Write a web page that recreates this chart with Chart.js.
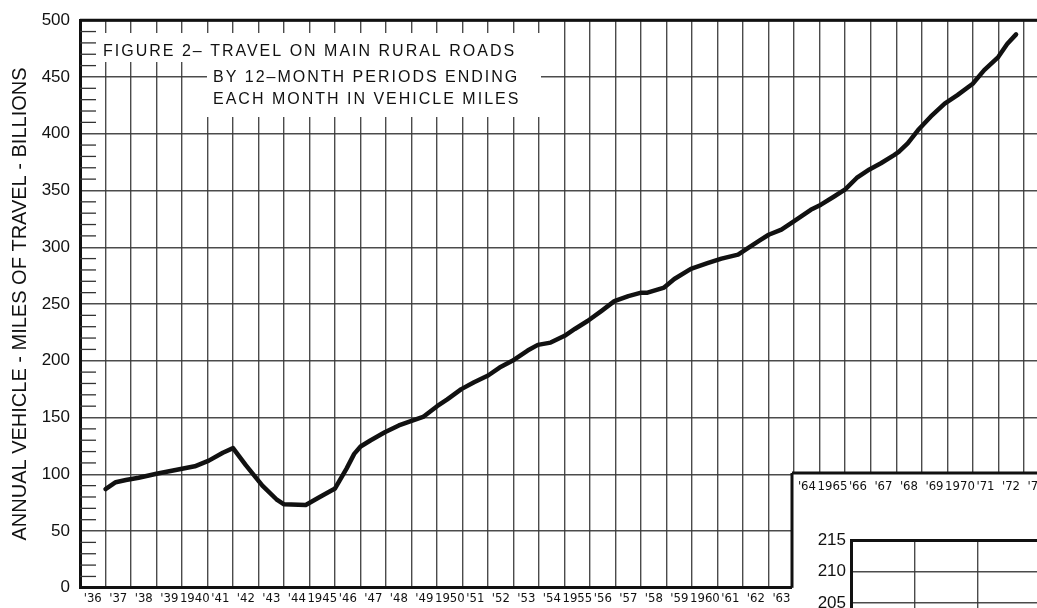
<!DOCTYPE html>
<html>
<head>
<meta charset="utf-8">
<script src="https://cdn.jsdelivr.net/npm/chart.js@4.4.1/dist/chart.umd.min.js"></script>
<style>
  html, body { margin: 0; padding: 0; background: #fff; overflow: hidden; }
  #wrap { position: relative; width: 1037px; height: 608px; overflow: hidden; }
  #mainChart { position: absolute; left: 0; top: 0; }
  #insetChart { position: absolute; left: 800px; top: 520px; }
</style>
</head>
<body>
<div id="wrap">
  <canvas id="mainChart" width="1037" height="608"></canvas>
  <canvas id="insetChart" width="305" height="200"></canvas>
</div>
<script>
// 12-month period ending (decimal year) and travel in billions of vehicle-miles
const periodEnd = [
  1937.00, 1937.40, 1937.80, 1938.30, 1939.00, 1939.90, 1940.50, 1941.05, 1941.60, 1942.00,
  1942.50, 1943.15, 1943.70, 1944.00, 1944.85, 1945.40, 1946.00, 1946.45, 1946.75, 1947.00,
  1947.40, 1947.95, 1948.50, 1949.00, 1949.45, 1950.00, 1950.40, 1950.95, 1951.45, 1952.00,
  1952.45, 1952.95, 1953.55, 1953.95, 1954.45, 1955.00, 1955.40, 1955.90, 1956.45, 1956.95,
  1957.50, 1958.00, 1958.25, 1958.90, 1959.30, 1959.95, 1960.60, 1961.15, 1961.80, 1962.20,
  1962.65, 1963.00, 1963.50, 1964.00, 1964.65, 1965.05, 1965.55, 1966.00, 1966.45, 1966.95,
  1967.40, 1967.90, 1968.10, 1968.45, 1968.85, 1969.35, 1969.90, 1970.40, 1971.00, 1971.45,
  1972.00, 1972.35, 1972.70
];
const travel = [
  87, 93, 95, 97, 100.5, 104.5, 107, 112, 119, 123,
  108, 90, 78, 73.5, 73, 80, 87.5, 105, 118, 124.5,
  130, 137, 143, 147, 150.5, 160, 166, 175, 181, 187,
  194, 200, 209, 214, 216, 222, 228, 235, 244, 252.5,
  257, 260, 260, 264.5, 272, 281, 286, 290, 293.5, 299.5,
  306, 311, 315.5, 323, 333, 337.5, 344.5, 351, 361, 368.5,
  374, 381, 384, 391.5, 403, 415, 426.5, 434, 444, 456,
  467.5, 479, 487.5
];
const years = [];
for (let yr = 1936; yr <= 1973; yr++) years.push(yr);
const yearLabels = [
  "'36", "'37", "'38", "'39", "1940", "'41", "'42", "'43", "'44", "1945",
  "'46", "'47", "'48", "'49", "1950", "'51", "'52", "'53", "'54", "1955",
  "'56", "'57", "'58", "'59", "1960", "'61", "'62", "'63", "'64", "1965",
  "'66", "'67", "'68", "'69", "1970", "'71", "'72", "'73"
];
const yTicks = [0, 50, 100, 150, 200, 250, 300, 350, 400, 450, 500];
const insetTicks = [215, 210, 205, 200, 195, 190];
const titleLines = [
  "FIGURE 2– TRAVEL ON MAIN RURAL ROADS",
  "BY 12–MONTH PERIODS ENDING",
  "EACH MONTH IN VEHICLE MILES"
];

const narrowFont = "'Liberation Sans Narrow', 'DejaVu Sans Condensed', sans-serif";
const plainFont = "'Liberation Sans', Arial, sans-serif";
const gridColor = "rgba(55,55,55,0.9)";
const lastMainYear = 1963;

function line(ctx, x1, y1, x2, y2) {
  ctx.beginPath();
  ctx.moveTo(x1, y1);
  ctx.lineTo(x2, y2);
  ctx.stroke();
}

const paperDetails = {
  id: "paperDetails",
  afterDraw(chart) {
    const { ctx, chartArea, scales } = chart;
    const x = scales.x, y = scales.y;
    ctx.save();

    // minor ticks every 10 along the left axis
    ctx.strokeStyle = "#333";
    ctx.lineWidth = 1.3;
    for (let v = 10; v < 500; v += 10) {
      if (v % 50 === 0) continue;
      const py = y.getPixelForValue(v);
      line(ctx, chartArea.left, py, chartArea.left + 16, py);
    }

    // top frame line
    ctx.strokeStyle = "#111";
    ctx.lineWidth = 3;
    line(ctx, chartArea.left, chartArea.top, chartArea.right, chartArea.top);

    // title block
    ctx.fillStyle = "#fff";
    ctx.fillRect(97, 33, 444, 29);
    ctx.fillRect(207, 62, 334, 55);
    ctx.fillStyle = "#111";
    ctx.font = "16px " + plainFont;
    ctx.letterSpacing = "2px";
    ctx.textBaseline = "alphabetic";
    ctx.textAlign = "left";
    ctx.fillText(titleLines[0], 103, 56);
    ctx.fillText(titleLines[1], 213, 82);
    ctx.fillText(titleLines[2], 213, 104);
    ctx.letterSpacing = "0px";

    // lower-right box that cuts off the chart
    ctx.fillStyle = "#fff";
    ctx.fillRect(792, 473, 1037 - 792, 608 - 473);
    ctx.strokeStyle = "#111";
    ctx.lineWidth = 3;
    line(ctx, 792, 473, 1037, 473);
    line(ctx, 792, 473, 792, chartArea.bottom);

    // year labels for the part of the x axis inside the box
    ctx.fillStyle = "#111";
    ctx.font = "13px " + narrowFont;
    ctx.textAlign = "center";
    ctx.textBaseline = "middle";
    const half = (x.getPixelForValue(1937) - x.getPixelForValue(1936)) / 2;
    years.forEach((yr, i) => {
      if (yr <= lastMainYear) return;
      ctx.fillText(yearLabels[i], x.getPixelForValue(yr) + half, 487);
    });
    ctx.restore();
  }
};

new Chart(document.getElementById("mainChart"), {
  type: "line",
  data: {
    datasets: [{
      data: periodEnd.map((t, i) => ({ x: t, y: travel[i] })),
      borderColor: "#111",
      borderWidth: 4.5,
      pointRadius: 0,
      tension: 0,
      borderJoinStyle: "round",
      borderCapStyle: "round",
      fill: false
    }]
  },
  options: {
    responsive: false,
    animation: false,
    layout: { padding: { top: 18, left: 0, right: 0, bottom: 0 } },
    plugins: { legend: { display: false }, tooltip: { enabled: false } },
    scales: {
      x: {
        type: "linear",
        min: 1936,
        max: 1973.52,
        afterBuildTicks: (scale) => { scale.ticks = years.map(v => ({ value: v })); },
        afterFit: (scale) => { scale.height = 20; },
        grid: { color: gridColor, lineWidth: 1.4, drawTicks: false },
        border: { color: "#111", width: 3 },
        ticks: {
          autoSkip: false,
          maxRotation: 0,
          padding: 3,
          labelOffset: 12.75,
          color: "#111",
          font: { family: narrowFont, size: 13 },
          callback: (v) => (v <= lastMainYear ? yearLabels[v - 1936] : "")
        }
      },
      y: {
        min: 0,
        max: 500,
        afterBuildTicks: (scale) => { scale.ticks = yTicks.map(v => ({ value: v })); },
        afterFit: (scale) => { scale.width = 80; },
        grid: { color: gridColor, lineWidth: 1.4, drawTicks: false },
        border: { color: "#111", width: 3 },
        ticks: {
          padding: 10,
          color: "#111",
          font: { family: plainFont, size: 17 }
        },
        title: {
          display: true,
          text: "ANNUAL VEHICLE - MILES OF TRAVEL - BILLIONS",
          color: "#111",
          font: { family: plainFont, size: 20 },
          padding: { top: 8, bottom: 0 }
        }
      }
    }
  },
  plugins: [paperDetails]
});

const insetFrame = {
  id: "insetFrame",
  afterDraw(chart) {
    const { ctx, chartArea } = chart;
    ctx.save();
    ctx.strokeStyle = "#111";
    ctx.lineWidth = 3;
    line(ctx, chartArea.left, chartArea.top, chartArea.right, chartArea.top);
    ctx.restore();
  }
};

new Chart(document.getElementById("insetChart"), {
  type: "line",
  data: { datasets: [] },
  options: {
    responsive: false,
    animation: false,
    layout: { padding: { top: 20.5, left: 0, right: 0, bottom: 0 } },
    plugins: { legend: { display: false }, tooltip: { enabled: false } },
    scales: {
      x: {
        type: "linear",
        min: 0,
        max: 4,
        afterBuildTicks: (scale) => { scale.ticks = [0, 1, 2, 3, 4].map(v => ({ value: v })); },
        afterFit: (scale) => { scale.height = 23.5; },
        grid: { color: gridColor, lineWidth: 1.4, drawTicks: false },
        border: { display: false },
        ticks: { display: false }
      },
      y: {
        min: 190,
        max: 215,
        afterBuildTicks: (scale) => { scale.ticks = insetTicks.map(v => ({ value: v })); },
        afterFit: (scale) => { scale.width = 51; },
        grid: { color: gridColor, lineWidth: 1.4, drawTicks: false },
        border: { color: "#111", width: 3 },
        ticks: {
          padding: 5,
          color: "#111",
          font: { family: plainFont, size: 17 }
        }
      }
    }
  },
  plugins: [insetFrame]
});
</script>
</body>
</html>
